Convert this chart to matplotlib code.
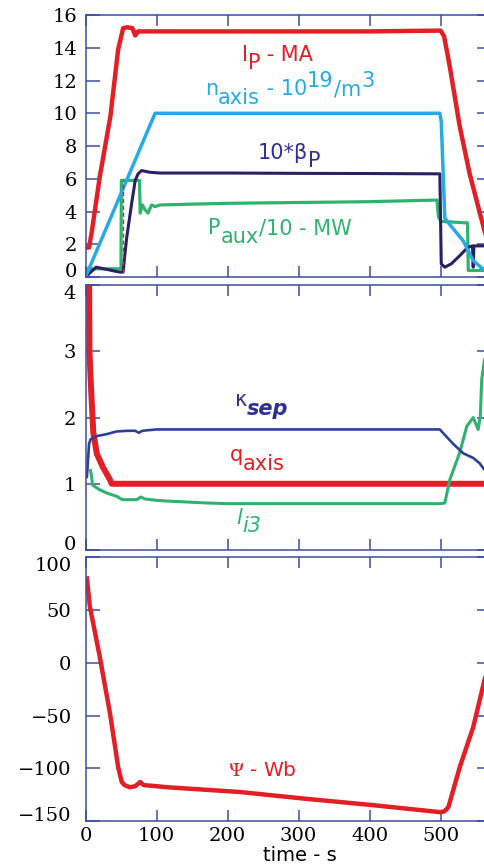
import matplotlib.pyplot as plt

#======== data ========
# top panel
ip_t = [2, 5, 9, 20, 35, 46, 53, 58, 66, 70, 74, 80, 200, 400, 500, 505, 513, 527, 541, 562, 571]
ip_v = [1.8, 1.8, 2.8, 6.1, 9.8, 13.9, 15.2, 15.25, 15.2, 14.75, 15.0, 15.0, 15.0, 15.0, 15.05, 14.7, 12.85, 9.2, 6.3, 2.8, 1.5]

ne_t = [0, 98, 499, 501, 506, 513, 532, 546, 562, 571]
ne_v = [0.0, 10.0, 10.0, 9.5, 3.6, 3.2, 2.2, 1.0, 0.4, 0.0]

beta_t = [0, 15, 48, 53, 55, 58, 65, 70, 74, 79, 90, 105, 200, 300, 400, 499, 501, 506, 515, 527, 538, 545, 546, 547, 571]
beta_v = [0.0, 0.6, 0.3, 0.3, 1.2, 2.4, 4.5, 5.9, 6.3, 6.5, 6.4, 6.35, 6.35, 6.33, 6.32, 6.3, 0.8, 0.6, 0.8, 1.3, 1.8, 1.9, 0.6, 1.9, 1.9]

paux_t = [0, 3, 50, 50.5, 76, 77, 80, 84, 88, 93, 98, 105, 150, 200, 300, 400, 495, 497, 500, 538, 539, 571]
paux_v = [0.0, 0.5, 0.5, 5.9, 5.9, 3.9, 4.4, 4.1, 3.9, 4.4, 4.3, 4.4, 4.45, 4.5, 4.55, 4.6, 4.7, 3.7, 3.4, 3.3, 0.4, 0.4]

dash_t = [53, 53]
dash_v = [0.3, 5.9]

# middle panel
q_t = [5, 5.5, 8, 11, 16, 25, 34, 37, 571]
q_v = [4.3, 3.0, 2.4, 1.77, 1.45, 1.24, 1.07, 1.0, 1.0]

kap_t = [0, 2, 5, 7, 16, 30, 44, 60, 70, 75, 80, 100, 499, 505, 518, 532, 546, 555, 562, 571]
kap_v = [1.1, 1.1, 1.6, 1.67, 1.72, 1.75, 1.79, 1.8, 1.8, 1.77, 1.8, 1.82, 1.82, 1.75, 1.6, 1.46, 1.39, 1.31, 1.21, 1.1]

li_t = [7, 8, 10, 20, 30, 44, 52, 72, 78, 84, 100, 114, 171, 200, 500, 506, 513, 527, 537, 546, 553, 556, 558, 562, 571]
li_v = [1.2, 1.15, 0.98, 0.91, 0.86, 0.81, 0.76, 0.76, 0.8, 0.77, 0.75, 0.74, 0.71, 0.70, 0.70, 0.71, 1.06, 1.47, 1.87, 2.0, 1.82, 2.02, 2.58, 2.88, 3.0]

# bottom panel
psi_t = [2, 6, 20, 34.5, 46, 51, 55, 62.6, 70, 77, 82, 100, 115, 217, 311, 405, 499, 505, 511, 527, 546, 562, 571]
psi_v = [80, 54, 6, -48, -99, -113, -116, -118, -117, -113, -116, -117, -118, -122.5, -129, -135, -141.6, -141, -137, -99, -61, -16, 5]

xticks = [0, 100, 200, 300, 400, 500]
#=============================================

RED = '#e31e25'
LBLUE = '#27aae1'
NAVY = '#2b1f62'
NAVYTXT = '#2e3192'
GREEN = '#2eb36e'
KBLUE = '#2e3f98'
AXC = '#3b4da0'

plt.rcParams['font.family'] = 'DejaVu Serif'
plt.rcParams['font.size'] = 14

fig = plt.figure(figsize=(4.85, 8.64), dpi=100)
left, width = 0.1763, 0.836
ax1 = fig.add_axes([left, 0.6794, width, 0.3032])
ax2 = fig.add_axes([left, 0.3634, width, 0.3067])
ax3 = fig.add_axes([left, 0.0498, width, 0.3050])


def style(ax, ylim, yticks, ypad, xlabels, top_in=False):
    ax.set_xlim(0, 571)
    ax.set_ylim(*ylim)
    ax.set_xticks(xticks)
    ax.set_yticks(yticks)
    for s in ax.spines.values():
        s.set_color(AXC)
        s.set_linewidth(1.1)
    ax.tick_params(axis='x', direction='in', length=8, width=1.1, color=AXC,
                   top=True, bottom=True, labelbottom=xlabels, pad=4)
    ax.tick_params(axis='y', direction='in', length=10, width=1.1, color=AXC,
                   left=True, right=True, pad=ypad)
    # keep the end labels inside the panel, as in the reference
    labs = ax.get_yticklabels()
    labs[0].set_va('baseline')
    if top_in:
        labs[-1].set_va('top')


def label(ax, x, y, parts, color, size=15):
    # parts: (text, baseline shift in points, style, weight)
    txt, dy, st, wt = parts[0]
    t = ax.text(x, y, txt, color=color, fontsize=size, family='DejaVu Sans',
                style=st, weight=wt, ha='left', va='baseline')
    prev = dy
    for txt, dy, st, wt in parts[1:]:
        t = ax.annotate(txt, xy=(1, 0), xycoords=t, xytext=(0, dy - prev),
                        textcoords='offset points', color=color, fontsize=size,
                        family='DejaVu Sans', style=st, weight=wt,
                        ha='left', va='bottom')
        prev = dy


N = 'normal'

# top panel
ax1.plot(paux_t, paux_v, color=GREEN, lw=2.3)
ax1.plot(beta_t, beta_v, color=NAVY, lw=2.2)
ax1.plot(ne_t, ne_v, color=LBLUE, lw=2.5)
ax1.plot(ip_t, ip_v, color=RED, lw=3.2)
ax1.plot(dash_t, dash_v, color=RED, lw=1.0, ls=(0, (3, 2)))
style(ax1, (0, 16), range(0, 17, 2), 6, False)

label(ax1, 220, 13.2, [('I', 0, N, N), ('P', -6, N, N), (' - MA', 0, N, N)], RED)
label(ax1, 168, 11.1, [('n', 0, N, N), ('axis', -6, N, N), (' - 10', 0, N, N),
                       ('19', 6, N, N), ('/m', 0, N, N), ('3', 6, N, N)], LBLUE)
label(ax1, 243, 7.2, [('10*β', 0, N, N), ('P', -6, N, N)], NAVYTXT)
label(ax1, 173, 2.6, [('P', 0, N, N), ('aux', -6, N, N), ('/10 - MW', 0, N, N)], GREEN)

# middle panel
ax2.plot(q_t, q_v, color=RED, lw=4.3)
ax2.plot(li_t, li_v, color=GREEN, lw=2.2)
ax2.plot(kap_t, kap_v, color=KBLUE, lw=1.9)
style(ax2, (0, 4), range(0, 5), 7, False, top_in=True)

label(ax2, 210, 2.17, [('κ', 0, N, N), ('sep', -6, 'italic', 'bold')], NAVYTXT)
label(ax2, 203, 1.34, [('q', 0, N, N), ('axis', -6, N, N)], RED)
label(ax2, 213, 0.40, [('l', 0, 'italic', N), ('i3', -6, 'italic', N)], GREEN)

# bottom panel
ax3.plot(psi_t, psi_v, color=RED, lw=3.2)
style(ax3, (-150, 100), range(-150, 101, 50), 10, True, top_in=True)
ax3.text(201, -107, r'$\Psi$ - Wb', color=RED, fontsize=14.5, family='DejaVu Sans',
         math_fontfamily='stix', ha='left', va='baseline')
ax3.set_xlabel('time - s', family='DejaVu Sans', fontsize=14)
ax3.xaxis.set_label_coords(0.529, -0.095)

fig.savefig('out.png', dpi=100)
